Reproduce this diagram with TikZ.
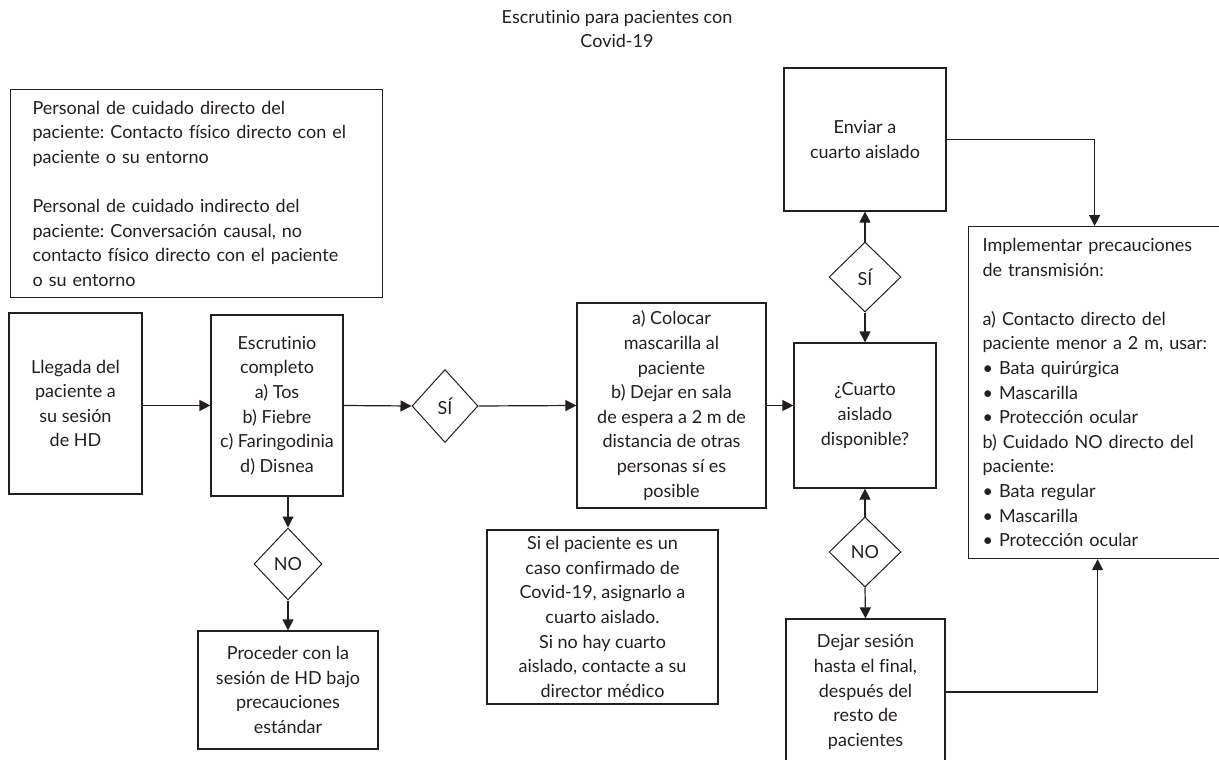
\documentclass[tikz,border=0pt]{standalone}
\usepackage{fontspec}
\setmainfont{Lato}[Ligatures=NoCommon]
\usepackage{tikz}
\usetikzlibrary{shapes.geometric,arrows.meta}
\definecolor{ink}{RGB}{35,31,32}
\frenchspacing

\begin{document}
\begin{tikzpicture}[x=1pt,y=-1pt,
	every node/.style={font=\fontsize{18}{24.6}\selectfont, text=ink},
	box/.style={draw=ink, line width=1.2pt, align=center, inner sep=0pt},
	choice/.style={draw=ink, line width=1pt, diamond, inner sep=0pt},
	arr/.style={draw=ink, line width=1.2pt, -{Triangle[length=11pt,width=11pt]}}]
\useasboundingbox (0,0) rectangle (1219,760);

\node[align=center] (title) at (617,29) {Escrutinio para pacientes con\\Covid-19};

\node[box, anchor=north west, align=left, text width=328pt, inner xsep=22pt, minimum height=208pt] (personal) at (10,89)
	{Personal de cuidado directo del\\paciente: Contacto físico directo con el\\paciente o su entorno\\[24.6pt]Personal de cuidado indirecto del\\paciente: Conversación causal, no\\contacto físico directo con el paciente\\o su entorno};

\node[box, minimum width=133pt, minimum height=181pt] (llegada) at (75.5,403.5) {Llegada del\\paciente a\\su sesión\\de HD};
\node[box, minimum width=132pt, minimum height=181pt] (escr) at (277,405.5) {Escrutinio\\completo\\a) Tos\\b) Fiebre\\c) Faringodinia\\d) Disnea};
\node[choice, minimum width=66pt, minimum height=73pt] (si1) at (445,406) {SÍ};
\node[choice, minimum width=68pt, minimum height=72pt] (no1) at (288,564) {NO};
\node[box, minimum width=180pt, minimum height=118pt] (proceder) at (288,690) {Proceder con la\\sesión de HD bajo\\precauciones\\estándar};
\node[box, minimum width=189pt, minimum height=205pt] (colocar) at (671.5,405.5) {a) Colocar\\mascarilla al\\paciente\\b) Dejar en sala\\de espera a 2 m de\\distancia de otras\\personas sí es\\posible};
\node[box, minimum width=231pt, minimum height=174pt] (confirmado) at (602.5,617) {Si el paciente es un\\caso confirmado de\\Covid-19, asignarlo a\\cuarto aislado.\\Si no hay cuarto\\aislado, contacte a su\\director médico};

\node[box, minimum width=142pt, minimum height=145pt] (cuarto) at (865,415.5) {¿Cuarto\\aislado\\disponible?};
\node[box, minimum width=162pt, minimum height=143pt] (enviar) at (865,139.5) {Enviar a\\cuarto aislado};
\node[choice, minimum width=72pt, minimum height=70pt] (si2) at (865,277) {SÍ};
\node[choice, minimum width=72pt, minimum height=70pt] (no2) at (865,552) {NO};
\node[box, minimum width=159pt, minimum height=146pt] (dejar) at (865.5,692) {Dejar sesión\\hasta el final,\\después del\\resto de\\pacientes};

\node[box, anchor=north west, align=left, text width=240pt, inner xsep=14pt, minimum height=332pt] (impl) at (968,226)
	{Implementar precauciones\\de transmisión:\\[24.6pt]a) Contacto directo del\\paciente menor a 2 m, usar:\\• Bata quirúrgica\\• Mascarilla\\• Protección ocular\\b) Cuidado NO directo del\\paciente:\\• Bata regular\\• Mascarilla\\• Protección ocular};

\draw[arr] (llegada.east |- escr.west) -- (escr.west);
\draw[arr] (escr.east) -- (si1.west);
\draw[arr] (si1.east) -- (colocar.west);
\draw[arr] (colocar.east) -- (colocar.east -| cuarto.west);
\draw[arr] (no1.north |- escr.south) -- (no1.north);
\draw[arr] (no1.south) -- (proceder.north);
\draw[arr] (si2.north) -- (enviar.south);
\draw[arr] (si2.south) -- (cuarto.north);
\draw[arr] (no2.north) -- (cuarto.south);
\draw[arr] (no2.south) -- (dejar.north);
\draw[arr] (enviar.east) -| ([xshift=-8pt]impl.north);
\draw[arr] (dejar.east) -| ([xshift=-5pt]impl.south);
\end{tikzpicture}
\end{document}
